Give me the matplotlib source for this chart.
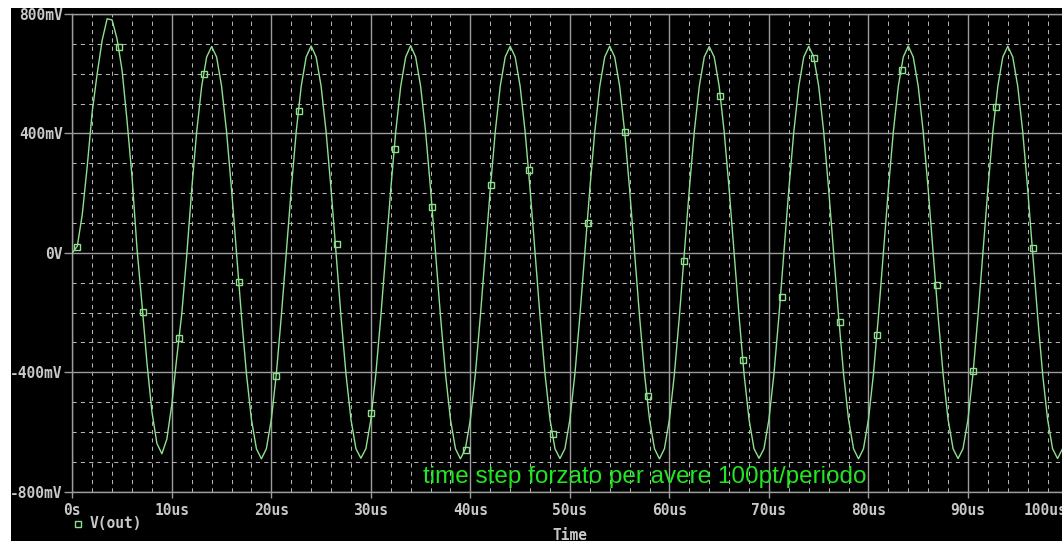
import numpy as np
import matplotlib
matplotlib.use("Agg")
import matplotlib.pyplot as plt
from matplotlib.ticker import MultipleLocator
from matplotlib.lines import Line2D
from matplotlib.patches import Rectangle

# ---------------- data ----------------
# sample times in microseconds, step 0.5 us
t_us = np.arange(0.0, 100.01, 0.5)

# V(out) in mV, 201 samples (0 .. 100 us)
v_out_mV = [
    0, 22, 128, 290, 472, 600, 712, 784, 780, 716,
    612, 443, 255, 15, -172, -368, -532, -638, -673, -624,
    -508, -350, -204, -8, 213, 406, 558, 656, 691, 656,
    558, 406, 213, 0, -213, -406, -558, -656, -690, -656,
    -558, -406, -213, 0, 213, 406, 558, 656, 693, 656,
    558, 406, 213, 0, -213, -406, -558, -656, -688, -656,
    -558, -406, -213, 0, 213, 406, 558, 656, 694, 656,
    558, 406, 213, 0, -213, -406, -558, -656, -690, -656,
    -558, -406, -213, 0, 213, 406, 558, 656, 692, 656,
    558, 406, 213, 0, -213, -406, -558, -656, -689, -656,
    -558, -406, -213, 0, 213, 406, 558, 656, 692, 656,
    558, 406, 213, 0, -213, -406, -558, -656, -690, -656,
    -558, -406, -213, 0, 213, 406, 558, 656, 691, 656,
    558, 406, 213, 0, -213, -406, -558, -656, -688, -656,
    -558, -406, -213, 0, 213, 406, 558, 656, 692, 656,
    558, 406, 213, 0, -213, -406, -558, -656, -690, -656,
    -558, -406, -213, 0, 213, 406, 558, 656, 693, 656,
    558, 406, 213, 0, -213, -406, -558, -656, -689, -656,
    -558, -406, -213, 0, 213, 406, 558, 656, 692, 656,
    558, 406, 213, 0, -213, -406, -558, -656, -689, -656,
    -558,
]

# marker symbols drawn on the trace
marker_t_us = [0.44, 4.69, 7.10, 10.75, 13.24, 16.78, 20.47, 22.75, 26.57, 30.02,
               32.43, 36.12, 39.54, 42.08, 45.90, 48.31, 51.86, 55.55, 57.83, 61.51,
               65.10, 67.38, 71.30, 74.54, 77.15, 80.84, 83.35, 86.87, 90.49, 92.80,
               96.58]
marker_v_mV = [19, 689, -199, -285, 600, -96, -411, 474, 30, -536,
               348, 155, -660, 228, 278, -606, 101, 404, -481, -26,
               527, -358, -149, 653, -232, -274, 611, -107, -397, 488,
               17]

x_ticks = [0, 10, 20, 30, 40, 50, 60, 70, 80, 90, 100]
x_tick_labels = ["0s", "10us", "20us", "30us", "40us", "50us", "60us",
                 "70us", "80us", "90us", "100us"]
y_ticks = [-800, -400, 0, 400, 800]
y_tick_labels = ["-800mV", "-400mV", "0V", "400mV", "800mV"]

trace_name = "V(out)"
x_title = "Time"
note = "time step forzato per avere 100pt/periodo"

# ---------------- styling ----------------
W, H = 1062, 544
BG = "black"
MAJOR = "#9c9c9c"
MINOR = "#b4b4b4"
TXT = "#c8c8c8"
TRACE = "#8ee08e"
NOTE = "#22e622"
MONO = dict(family="DejaVu Sans Mono", weight="bold", size=10.5)

fig = plt.figure(figsize=(W / 100, H / 100), dpi=100, facecolor=BG)
x0, x1 = 72.3, 1067.5
ytop, ybot = 14.0, 491.7
ax = fig.add_axes([x0 / W, (H - ybot) / H, (x1 - x0) / W, (ybot - ytop) / H])
ax.set_facecolor(BG)

ax.plot(t_us, v_out_mV, color=TRACE, lw=1.0, zorder=3)
ax.plot(marker_t_us, marker_v_mV, ls="none", marker="s", ms=5, mfc="none",
        mec=TRACE, mew=1.0, zorder=4)

ax.set_xlim(0, 100)
ax.set_ylim(-800, 800)
ax.set_xticks(x_ticks)
ax.set_xticklabels(x_tick_labels, color=TXT, **MONO)
ax.get_xticklabels()[-1].set_horizontalalignment("right")
ax.set_yticks(y_ticks)
ax.set_yticklabels(y_tick_labels, color=TXT, **MONO)
ax.xaxis.set_minor_locator(MultipleLocator(2))
ax.yaxis.set_minor_locator(MultipleLocator(100))

ax.set_axisbelow(True)
ax.grid(which="major", color=MAJOR, lw=1.0, ls="-")
ax.grid(which="minor", color=MINOR, lw=0.75, ls=(0, (4, 4)))

ax.tick_params(axis="x", which="major", length=4, width=1, color=MAJOR, pad=4)
ax.tick_params(axis="y", which="major", length=6, width=1, color=MAJOR, pad=1)
ax.tick_params(which="minor", length=0)

for side in ["left", "bottom", "top"]:
    ax.spines[side].set_color(MAJOR)
    ax.spines[side].set_linewidth(1.0)
ax.spines["right"].set_visible(False)

ax.text(35.2, -770, note, color=NOTE, fontsize=17.5, family="Liberation Sans",
        ha="left", va="baseline", zorder=5)

# legend entry below the axis
fig.add_artist(Line2D([78 / W], [(H - 524) / H], transform=fig.transFigure,
                      ls="none", marker="s", ms=4, mfc="none", mec=TRACE, mew=1.0))
fig.text(90 / W, (H - 523) / H, trace_name, color=TXT, ha="left", va="center", **MONO)
fig.text(570 / W, (H - 528.5) / H, x_title, color=TXT, ha="center", va="top", **MONO)

# white margins of the screenshot
fig.add_artist(Rectangle((0, (H - 8) / H), 1, 8 / H, transform=fig.transFigure,
                         facecolor="white", edgecolor="none", zorder=10))
fig.add_artist(Rectangle((0, 0), 11 / W, 1, transform=fig.transFigure,
                         facecolor="white", edgecolor="none", zorder=10))
fig.add_artist(Rectangle((0, 0), 1, 3 / H, transform=fig.transFigure,
                         facecolor="white", edgecolor="none", zorder=10))

fig.savefig("out.png", dpi=100, facecolor=BG)
